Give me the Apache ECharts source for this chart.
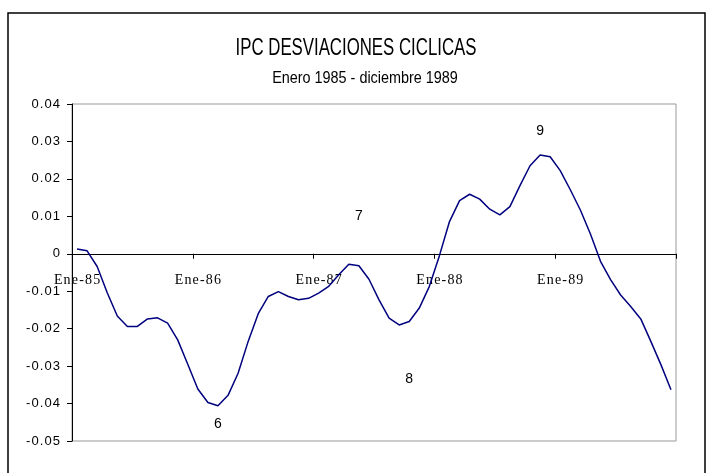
<!DOCTYPE html>
<html>
<head>
<meta charset="utf-8">
<script src="https://cdn.jsdelivr.net/npm/echarts@6/dist/echarts.min.js"></script>
<style>
	html, body { margin: 0; padding: 0; background: #fff; }
	#chart { width: 712px; height: 473px; }
</style>
</head>
<body>
<div id="chart"></div>
<script>
// meses y años del período
const months = ["Ene", "Feb", "Mar", "Abr", "May", "Jun", "Jul", "Ago", "Sep", "Oct", "Nov", "Dic"];
const years = ["85", "86", "87", "88", "89"];

// desviaciones cíclicas del IPC
const desviaciones = [
	0.0013, 0.0008, -0.0034, -0.0104, -0.0166, -0.0194, -0.0194, -0.0174, -0.0171, -0.0185,
	-0.0230, -0.0295, -0.0361, -0.0397, -0.0406, -0.0378, -0.0319, -0.0234, -0.0160, -0.0114,
	-0.0101, -0.0114, -0.0123, -0.0119, -0.0105, -0.0087, -0.0056, -0.0028, -0.0032, -0.0068,
	-0.0123, -0.0172, -0.0190, -0.0181, -0.0145, -0.0087, -0.0005, 0.0086, 0.0142, 0.0159,
	0.0146, 0.0119, 0.0104, 0.0126, 0.0182, 0.0235, 0.0264, 0.0259, 0.0222, 0.0171,
	0.0117, 0.0053, -0.0020, -0.0069, -0.0110, -0.0141, -0.0174, -0.0234, -0.0296, -0.0363,
];

// marcas numeradas: [índice de mes, valor, texto]
const marcas = [
	[14, -0.0454, "6"],
	[28, 0.0101, "7"],
	[33, -0.0336, "8"],
	[46, 0.0328, "9"],
];

const yTicks = [-0.05, -0.04, -0.03, -0.02, -0.01, 0, 0.01, 0.02, 0.03, 0.04];
const yMin = -0.05;
const yMax = 0.04;

const categories = [];
years.forEach((y) => {
	months.forEach((m) => categories.push(m + "-" + y));
});

const narrow = "Liberation Sans, Arial, sans-serif";
const spaced = (s) => s.split("").join("\u200a");

// el eje de categorías va sobre el cero, con las etiquetas debajo
const gridTop = 104;
const gridBottom = 32;
const plotH = 473 - gridTop - gridBottom;
const zeroOffset = -plotH * (0 - yMin) / (yMax - yMin);

const chart = echarts.init(document.getElementById("chart"));
chart.setOption({
	animation: false,
	backgroundColor: "#fff",
	graphic: [
		{
			type: "rect",
			shape: { x: 8, y: 13, width: 697, height: 470 },
			style: { fill: "none", stroke: "#000", lineWidth: 1.5 },
			silent: true,
		},
		{
			type: "text",
			x: 356,
			y: 48,
			scaleX: 0.7,
			style: {
				text: "IPC DESVIACIONES CICLICAS",
				font: "24px " + narrow,
				fill: "#000",
				align: "center",
				verticalAlign: "middle",
			},
			silent: true,
		},
		{
			type: "text",
			x: 365,
			y: 79,
			scaleX: 0.9,
			style: {
				text: "Enero 1985 - diciembre 1989",
				font: "16px " + narrow,
				fill: "#000",
				align: "center",
				verticalAlign: "middle",
			},
			silent: true,
		},
	],
	grid: {
		left: 72,
		right: 36,
		top: gridTop,
		bottom: gridBottom,
		show: true,
		borderColor: "#999",
		borderWidth: 1,
	},
	xAxis: {
		type: "category",
		data: categories,
		boundaryGap: true,
		offset: zeroOffset,
		axisLine: { onZero: false, lineStyle: { color: "#000", width: 1 } },
		axisTick: { show: true, interval: 11, length: 5, lineStyle: { color: "#000", width: 1 } },
		axisLabel: {
			interval: 11,
			margin: 20,
			fontFamily: "Liberation Serif, Times New Roman, serif",
			fontSize: 14,
			color: "#000",
			formatter: spaced,
		},
		splitLine: { show: false },
	},
	yAxis: {
		type: "value",
		min: yMin,
		max: yMax,
		interval: 0.01,
		axisLine: { show: true, lineStyle: { color: "#000", width: 1 } },
		axisTick: { show: true, length: 5, lineStyle: { color: "#000" } },
		axisLabel: {
			margin: 12,
			fontFamily: narrow,
			fontSize: 13,
			color: "#000",
			formatter: (v) => {
				const t = yTicks.find((k) => Math.abs(k - v) < 1e-9);
				return spaced(t === 0 ? "0" : t.toFixed(2));
			},
		},
		splitLine: { show: false },
	},
	series: [
		{
			type: "line",
			data: desviaciones,
			symbol: "none",
			lineStyle: { color: "#00007f", width: 1.5 },
			markPoint: {
				symbol: "circle",
				symbolSize: 1,
				itemStyle: { color: "transparent" },
				label: {
					show: true,
					position: "inside",
					fontFamily: narrow,
					fontSize: 14,
					color: "#000",
					formatter: (p) => p.name,
				},
				data: marcas.map((m) => ({ name: m[2], coord: [m[0], m[1]] })),
			},
		},
	],
});
</script>
</body>
</html>
